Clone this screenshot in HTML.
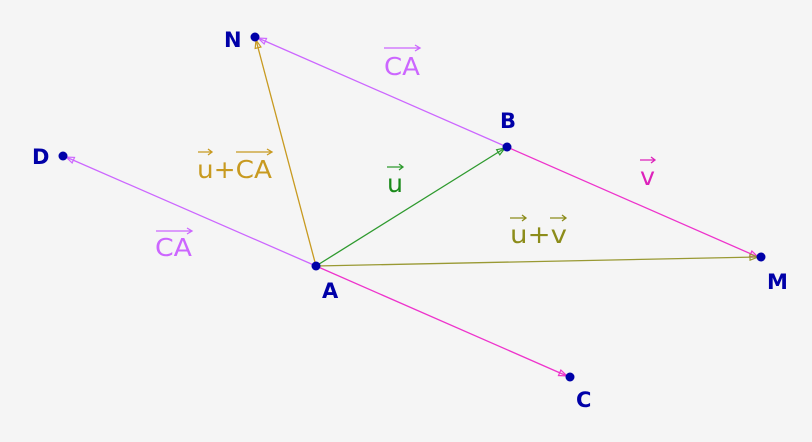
<!DOCTYPE html>
<html><head><meta charset="utf-8"><style>
html,body{margin:0;padding:0;background:#f5f5f5;}
svg{display:block;font-family:"DejaVu Sans","Liberation Sans",sans-serif;}
</style></head><body>
<svg width="812" height="442" viewBox="0 0 812 442" xmlns="http://www.w3.org/2000/svg">
<defs>
<marker id="mv" markerWidth="10" markerHeight="8" refX="9" refY="4" orient="auto" markerUnits="userSpaceOnUse"><path d="M1,1 L9,4 L1,7 Z" fill="none" stroke="#cc66ff" stroke-width="1.2"/></marker>
<marker id="mm" markerWidth="10" markerHeight="8" refX="9" refY="4" orient="auto" markerUnits="userSpaceOnUse"><path d="M1,1 L9,4 L1,7 Z" fill="none" stroke="#ee33cc" stroke-width="1.2"/></marker>
<marker id="mg" markerWidth="10" markerHeight="8" refX="9" refY="4" orient="auto" markerUnits="userSpaceOnUse"><path d="M1,1 L9,4 L1,7 Z" fill="none" stroke="#2e9a2e" stroke-width="1.2"/></marker>
<marker id="my" markerWidth="10" markerHeight="8" refX="9" refY="4" orient="auto" markerUnits="userSpaceOnUse"><path d="M1,1 L9,4 L1,7 Z" fill="none" stroke="#c89a20" stroke-width="1.2"/></marker>
<marker id="mo" markerWidth="10" markerHeight="8" refX="9" refY="4" orient="auto" markerUnits="userSpaceOnUse"><path d="M1,1 L9,4 L1,7 Z" fill="none" stroke="#999933" stroke-width="1.2"/></marker>
</defs>
<g stroke-width="1.3" fill="none">
<line x1="507" y1="147" x2="258" y2="38" stroke="#cc66ff" marker-end="url(#mv)"/>
<line x1="316" y1="266" x2="66" y2="157" stroke="#cc66ff" marker-end="url(#mv)"/>
<line x1="507" y1="147" x2="758" y2="257" stroke="#ee33cc" marker-end="url(#mm)"/>
<line x1="316" y1="266" x2="567" y2="376" stroke="#ee33cc" marker-end="url(#mm)"/>
<line x1="316" y1="266" x2="505" y2="148" stroke="#2e9a2e" marker-end="url(#mg)"/>
<line x1="316" y1="266" x2="256" y2="40" stroke="#c89a20" marker-end="url(#my)"/>
<line x1="316" y1="266" x2="758" y2="257" stroke="#999933" marker-end="url(#mo)"/>
</g>
<g fill="#0000a8">
<circle cx="255" cy="37" r="4.5"/><circle cx="507" cy="147" r="4.5"/><circle cx="63" cy="156" r="4.5"/>
<circle cx="316" cy="266" r="4.5"/><circle cx="761" cy="257" r="4.5"/><circle cx="570" cy="377" r="4.5"/>
</g>
<g fill="#0000a8" font-size="21" font-weight="bold">
<text x="224" y="47">N</text><text x="500" y="128">B</text><text x="32" y="164">D</text>
<text x="322" y="298">A</text><text x="767" y="289">M</text><text x="576" y="407">C</text>
</g>
<g font-size="25">
<text x="384" y="75" fill="#cc66ff" textLength="36" lengthAdjust="spacingAndGlyphs">CA</text>
<path d="M384,48 H420 M415,45 L420,48 L415,51" stroke="#cc66ff" fill="none" stroke-width="1.3"/>
<text x="155" y="256" fill="#cc66ff" textLength="37" lengthAdjust="spacingAndGlyphs">CA</text>
<path d="M156,231 H192 M187,228 L192,231 L187,234" stroke="#cc66ff" fill="none" stroke-width="1.3"/>
<text x="197" y="178" fill="#c89a20" textLength="75" lengthAdjust="spacingAndGlyphs">u+CA</text>
<path d="M198,152 H212 M208,149 L212,152 L208,155 M236,152 H272 M267,149 L272,152 L267,155" stroke="#c89a20" fill="none" stroke-width="1.3"/>
<text x="387" y="192" fill="#1a8a1a" textLength="16" lengthAdjust="spacingAndGlyphs">u</text>
<path d="M387,167 H403 M399,164 L403,167 L399,170" stroke="#2e9a2e" fill="none" stroke-width="1.3"/>
<text x="640" y="185" fill="#dd22bb" textLength="15" lengthAdjust="spacingAndGlyphs">v</text>
<path d="M640,160 H655 M651,157 L655,160 L651,163" stroke="#dd22bb" fill="none" stroke-width="1.3"/>
<text x="510" y="243" fill="#8c8c1a" textLength="57" lengthAdjust="spacingAndGlyphs">u+v</text>
<path d="M510,218 H526 M522,215 L526,218 L522,221 M550,218 H566 M562,215 L566,218 L562,221" stroke="#8c8c1a" fill="none" stroke-width="1.3"/>
</g>
</svg>
</body></html>
